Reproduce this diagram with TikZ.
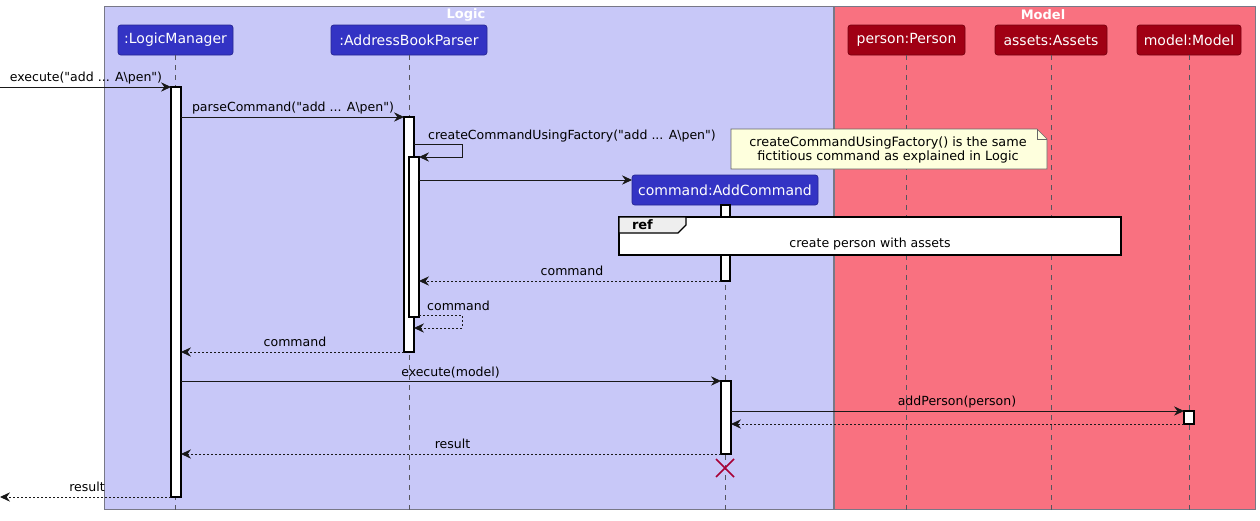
\documentclass[tikz,border=0pt]{standalone}
\usepackage{fontspec}
\setmainfont{DejaVu Sans}
\usetikzlibrary{arrows.meta,calc}
\definecolor{logicbg}{RGB}{200,200,248}
\definecolor{modelbg}{RGB}{249,113,128}
\definecolor{logicp}{RGB}{51,51,196}
\definecolor{modelp}{RGB}{160,0,20}
\definecolor{boxborder}{RGB}{120,120,135}
\definecolor{notebg}{RGB}{254,255,221}
\definecolor{lifecol}{RGB}{85,85,95}
\definecolor{destroycol}{RGB}{168,0,54}
\definecolor{tabbg}{RGB}{238,238,238}
\newcommand{\qq}{\textquotedbl}
\begin{document}
\begin{tikzpicture}[x=0.75pt,y=-0.75pt,
  every node/.style={font=\fontsize{9.75}{12}\selectfont, inner sep=0pt, outer sep=0pt},
  grp/.style={draw=boxborder, line width=0.75pt},
  title/.style={font=\fontsize{9.75}{12}\selectfont\bfseries, text=white},
  partL/.style={fill=logicp, draw=logicp!75!black, line width=0.5pt, rounded corners=2pt, text=white, minimum height=22.5pt, font=\fontsize{10.5}{12}\selectfont},
  partM/.style={fill=modelp, draw=modelp!75!black, line width=0.5pt, rounded corners=2pt, text=white, minimum height=22.5pt, font=\fontsize{10.5}{12}\selectfont},
  life/.style={draw=lifecol, line width=0.6pt, dash pattern=on 3.75pt off 3.75pt},
  act/.style={draw=black, fill=white, line width=0.8pt, minimum width=7.5pt, anchor=north},
  msg/.style={draw=black!90, line width=0.75pt, -{Stealth[length=7.5pt,width=7pt,inset=2.5pt]}},
  ret/.style={msg, dash pattern=on 1.5pt off 1.5pt},
  lbl/.style={anchor=base, text=black, font=\fontsize{9.4}{12}\selectfont}
]
\useasboundingbox (0,0) rectangle (1260,521);
% groups
\node[grp, fill=logicbg, minimum width=546.75pt, minimum height=377.25pt, anchor=north west] (logic) at (104,6) {};
\node[grp, fill=modelbg, minimum width=315.75pt, minimum height=377.25pt, anchor=north west] (model) at (834,6) {};
\node[title] (logict) at (466,14.5) {Logic};
\node[title] (modelt) at (1043,14.5) {Model};
% participants
\node[partL, minimum width=86.25pt] (lm) at (175.5,40) {:LogicManager};
\node[partL, minimum width=117pt] (abp) at (409,40) {:AddressBookParser};
\node[partM, minimum width=87.75pt] (person) at (906.5,40) {person:Person};
\node[partM, minimum width=84pt] (assets) at (1051,40) {assets:Assets};
\node[partM, minimum width=78pt] (mdl) at (1189,40) {model:Model};
\node[partL, minimum width=139.5pt] (ac) at (725,190) {command:AddCommand};
\coordinate (bot) at (0,512);
% lifelines
\draw[life] (lm.south) -- (lm.south |- bot);
\draw[life] (abp.south) -- (abp.south |- bot);
\draw[life] (ac.south) -- (ac.south |- bot);
\draw[life] (person.south) -- (person.south |- bot);
\draw[life] (assets.south) -- (assets.south |- bot);
\draw[life] (mdl.south) -- (mdl.south |- bot);
% note
\draw[draw=black!60, fill=notebg, line width=0.5pt] (731,129) -- (1037,129) -- (1047,139) -- (1047,169) -- (731,169) -- cycle;
\draw[draw=black!60, line width=0.5pt] (1037,129) -- (1037,139) -- (1047,139);
\node[align=center, font=\fontsize{9.6}{10.5}\selectfont] (note) at (888,149.5) {createCommandUsingFactory() is the same\\fictitious command as explained in Logic};
% activations
\node[act, minimum height=307.5pt] (lmact) at (176,87) {};
\node[act, minimum height=176.25pt] (pact1) at (409,117) {};
\node[act, minimum height=120pt] (pact2) at (414,157) {};
\node[act, minimum height=57pt, minimum width=6.75pt] (acact1) at (725.5,205) {};
\node[act, minimum height=54.75pt] (acact2) at (726,381) {};
\node[act, minimum height=9.75pt] (mact) at (1189,411) {};
% ref frame
\node[draw=black, fill=white, line width=1pt, minimum width=376.5pt, minimum height=28.5pt, anchor=north west] (ref) at (619,217) {};
\draw[draw=black, fill=tabbg, line width=1pt] (ref.north west) -- (686,217) -- (686,225) -- (678,233) -- (619,233) -- cycle;
\node[font=\fontsize{9.75}{12}\selectfont\bfseries, anchor=base west] (reft) at (632,229.5) {ref};
\node[lbl] (refbody) at (870,247.5) {create person with assets};
% messages
\coordinate (in) at (0,87);
\coordinate (out) at (0,497);
\draw[msg] (in) -- (lmact.north west);
\node[lbl] (l1) at (86,81.5) {execute(\qq add ... A\textbackslash pen\qq)};
\draw[msg] (lmact.east |- pact1.north) -- (pact1.north west);
\node[lbl] (l2) at (293,111.5) {parseCommand(\qq add ... A\textbackslash pen\qq)};
\draw[msg] (pact1.east |- 0,144) -- ++(48,0) -- ++(0,13) -- (pact2.north east);
\node[lbl] (l3) at (572,139) {createCommandUsingFactory(\qq add ... A\textbackslash pen\qq)};
\draw[msg] (pact2.east |- 0,180) -- (ac.west |- 0,180);
\draw[ret] (acact1.south west) -- (pact2.east |- acact1.south);
\node[lbl] (l4) at (572,275.5) {command};
\draw[ret] (pact2.east |- 0,315) -- ++(43,0) -- ++(0,13) -- (pact1.east |- 0,328);
\node[lbl] (l5) at (458.5,310) {command};
\draw[ret] (pact1.south west) -- (lmact.east |- pact1.south);
\node[lbl] (l6) at (295,346.5) {command};
\draw[msg] (lmact.east |- acact2.north) -- (acact2.north west);
\node[lbl] (l7) at (450.5,376.5) {execute(model)};
\draw[msg] (acact2.east |- mact.north) -- (mact.north west);
\node[lbl] (l8) at (957,405.5) {addPerson(person)};
\draw[ret] (mact.south west) -- (acact2.east |- mact.south);
\draw[ret] (acact2.south west) -- (lmact.east |- acact2.south);
\node[lbl] (l9) at (452.5,448) {result};
\draw[ret] (lmact.south west) -- (out);
\node[lbl] (l10) at (87,491.5) {result};
% destroy
\coordinate (x) at (725,468);
\draw[destroycol, line width=1.3pt] ($(x)+(-9,-9)$) -- ($(x)+(9,9)$) ($(x)+(9,-9)$) -- ($(x)+(-9,9)$);
\end{tikzpicture}
\end{document}
